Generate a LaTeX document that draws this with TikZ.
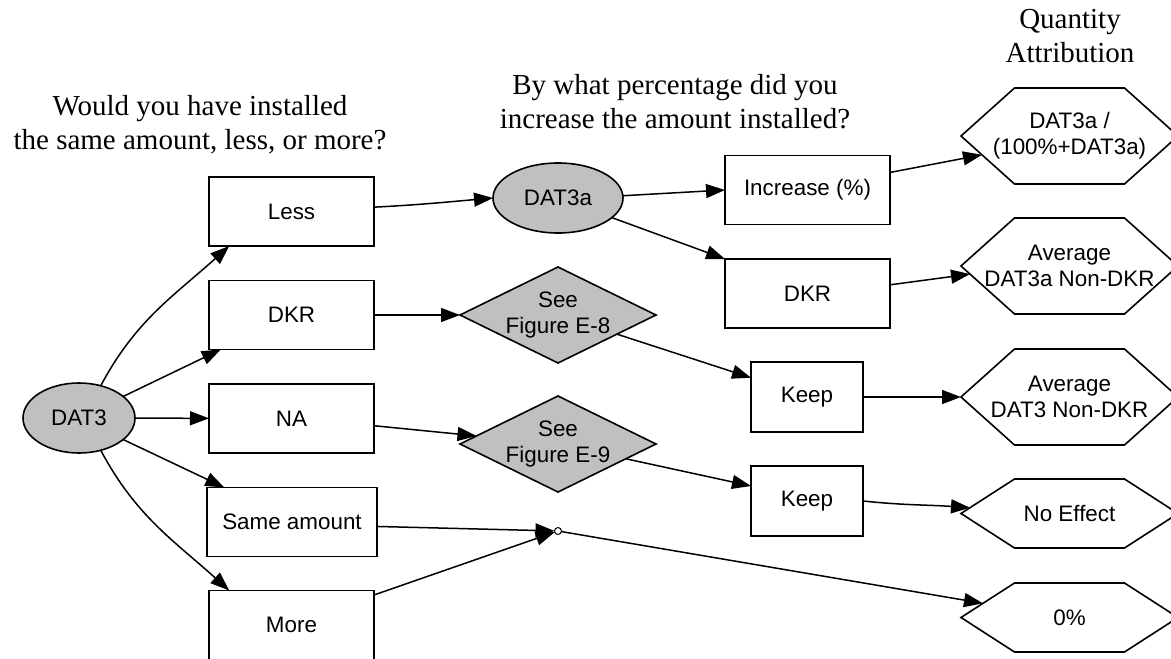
\documentclass[tikz,border=0pt]{standalone}
\usepackage{fontspec}
\setmainfont{Liberation Serif}
\newfontfamily\sansf{Liberation Sans}
\usetikzlibrary{shapes.geometric,arrows.meta,calc}
\definecolor{graphgray}{HTML}{C0C0C0}
\begin{document}
\begin{tikzpicture}[x=1pt,y=1pt,
  every node/.style={inner sep=0pt, outer sep=0pt},
  nodefont/.style={font=\sansf\fontsize{22.4}{26}\selectfont},
  box/.style={nodefont, draw, line width=1.8pt, minimum width=165pt, minimum height=69pt},
  oval/.style={nodefont, ellipse, draw, line width=1.6pt, fill=graphgray},
  dia/.style={diamond, draw, line width=1.6pt, fill=graphgray, minimum width=196pt, minimum height=96pt},
  hexbox/.style={nodefont, align=center, minimum width=217pt},
  hexline/.style={line width=1.6pt},
  arr/.style={line width=1.5pt, -{Triangle[length=19pt,width=14pt]}},
  titletext/.style={align=center, font=\fontsize{29}{34.5}\selectfont}
]
\clip (0,0) rectangle (1171,-659);
\fill[white] (0,0) rectangle (1171,-659);

% titles
\node[titletext] (t1) at (200,-124.6) {Would you have installed\\the same amount, less, or more?};
\node[titletext] (t2) at (675,-101.5) {By what percentage did you\\increase the amount installed?};
\node[titletext] (t3) at (1070,-36) {Quantity\\Attribution};

% column 0
\node[oval, minimum width=112pt, minimum height=70pt] (dat3) at (79,-418) {DAT3};

% column 1
\node[box] (less) at (291.5,-211.5) {Less};
\node[box] (dkr1) at (291.5,-315) {DKR};
\node[box] (na) at (291.5,-418.5) {NA};
\node[box, minimum width=170pt] (same) at (292,-522) {Same amount};
\node[box] (more) at (291.5,-625) {More};

% column 2
\node[oval, minimum width=130pt, minimum height=70pt] (dat3a) at (558,-198) {DAT3a};
\node[dia, label={[nodefont, align=center]center:See\\Figure E-8}] (e8) at (558,-315) {};
\node[dia, label={[nodefont, align=center]center:See\\Figure E-9}] (e9) at (558,-444) {};
\node[circle, draw, fill=white, line width=1pt, minimum size=7pt] (pt) at (558,-531) {};

% column 3
\node[box] (incr) at (807.5,-190) {Increase (\%)};
\node[box] (dkr2) at (807.5,-293.5) {DKR};
\node[box, minimum width=112pt, minimum height=70pt] (keep1) at (807,-397) {Keep};
\node[box, minimum width=112pt, minimum height=70pt] (keep2) at (807,-501) {Keep};

% column 4 (hexagons)
\node[hexbox, minimum height=96pt] (h1) at (1069.5,-136) {DAT3a /\\(100\%+DAT3a)};
\node[hexbox, minimum height=96pt] (h2) at (1069.5,-266) {Average\\DAT3a Non-DKR};
\node[hexbox, minimum height=96pt] (h3) at (1069.5,-397) {Average\\DAT3 Non-DKR};
\node[hexbox, minimum height=69pt] (h4) at (1069.5,-513.5) {No Effect};
\node[hexbox, minimum height=69pt] (h5) at (1069.5,-617.5) {0\%};
\foreach \h in {h1,h2,h3,h4,h5}{
  \draw[hexline] (\h.west) -- ($(\h.north west)+(53.5,0)$) -- ($(\h.north east)+(-53.5,0)$)
    -- (\h.east) -- ($(\h.south east)+(-53.5,0)$) -- ($(\h.south west)+(53.5,0)$) -- cycle;
}
\coordinate (h1in) at ($(h1.west)+(21,-18.8)$);
\coordinate (h2in) at ($(h2.west)+(9,-8.1)$);
\coordinate (h4in) at ($(h4.west)+(9,5.8)$);
\coordinate (h5in) at ($(h5.west)+(22,14.2)$);

% connectors
\draw[arr] (dat3.56) to[out=62,in=222] (less.209);
\draw[arr] (dat3.26) -- (dkr1.206);
\draw[arr] (dat3) -- (na);
\draw[arr] (dat3.-26) -- (same.153);
\draw[arr] (dat3.-56) to[out=-62,in=138] (more.151);

\draw[arr] (less.3) to[out=3,in=185] (dat3a.west);
\draw[arr] (dkr1) -- (e8);
\draw[arr] (na.-5) -- (e9);
\draw[arr] (same.-3) -- (pt);
\draw[arr] (more.20) -- (pt);

\draw[arr] (dat3a.2) -- (incr.west);
\draw[arr] (dat3a.-20) -- (dkr2.north west);
\draw[arr] (e8) -- (keep1.161);
\draw[arr] (e9) -- (keep2.165);
\draw[arr] (pt) -- (h5in);

\draw[arr] (incr.12) -- (h1in);
\draw[arr] (dkr2.6) -- (h2in);
\draw[arr] (keep1) -- (h3.west);
\draw[arr] (keep2.east) to[out=-6,in=176] (h4in);
\end{tikzpicture}
\end{document}
